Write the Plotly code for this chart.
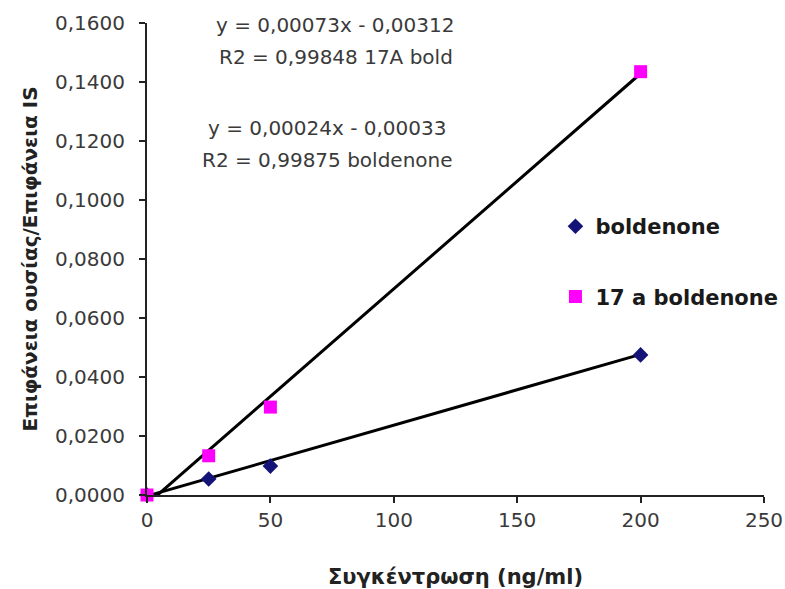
import plotly.graph_objects as go
import numpy as np

conc = [0, 25, 50, 200]
boldenone = [0.0, 0.0054, 0.0098, 0.0475]
alpha17 = [0.0, 0.0133, 0.0298, 0.1435]

fit_bold = (0.00024, -0.00033)
fit_17a = (0.00073, -0.00312)
trend_x = [0, 200]

x_ticks = [0, 50, 100, 150, 200, 250]
y_ticks = [0, 0.02, 0.04, 0.06, 0.08, 0.10, 0.12, 0.14, 0.16]

eq_lines = [
    ("y = 0,00073x - 0,00312", 0.306, 0.996),
    ("R2 = 0,99848 17A bold", 0.306, 0.928),
    ("y = 0,00024x - 0,00033", 0.292, 0.778),
    ("R2 = 0,99875 boldenone", 0.292, 0.710),
]

font_family = "'DejaVu Sans', sans-serif"

fig = go.Figure()

for (m, b) in (fit_17a, fit_bold):
    tx = np.array(trend_x, dtype=float)
    fig.add_trace(go.Scatter(
        x=tx, y=m * tx + b, mode="lines", cliponaxis=True,
        line=dict(color="black", width=3), showlegend=False, hoverinfo="skip"))

fig.add_trace(go.Scatter(
    x=conc, y=boldenone, mode="markers", name="boldenone",
    legendgroup="a", cliponaxis=False,
    marker=dict(symbol="diamond", color="#141478", size=12)))
fig.add_trace(go.Scatter(
    x=conc, y=alpha17, mode="markers", name="17 a boldenone",
    legendgroup="b", cliponaxis=False,
    marker=dict(symbol="square", color="#ff00ff", size=13)))

for text, xx, yy in eq_lines:
    fig.add_annotation(x=xx, y=yy, xref="paper", yref="paper", text=text,
                       showarrow=False, xanchor="center", yanchor="middle",
                       font=dict(size=20, color="#3a3a3a", family=font_family))

fig.update_layout(
    width=785, height=589,
    margin=dict(l=147, r=21, t=23, b=94, autoexpand=False),
    paper_bgcolor="white", plot_bgcolor="white",
    separators=", ",
    font=dict(family=font_family, color="#3a3a3a"),
    legend=dict(x=0.662, y=0.612, xanchor="left", yanchor="top",
                font=dict(size=21, color="#1a1a1a", family=font_family, weight="bold"),
                tracegroupgap=40, bgcolor="rgba(0,0,0,0)"),
    xaxis=dict(range=[0, 250], tickvals=x_ticks, showgrid=False, zeroline=False,
               automargin=False,
               showline=True, linecolor="#222222", linewidth=2,
               ticks="outside", ticklen=6, tickcolor="#222222", tickwidth=1.5,
               tickfont=dict(size=20, color="#3a3a3a"),
               title=dict(text="<b>Συγκέντρωση (ng/ml)</b>", standoff=38,
                          font=dict(size=21, color="#222222"))),
    yaxis=dict(range=[0, 0.16], tickvals=y_ticks, tickformat=".4f",
               showgrid=False, zeroline=False, automargin=False,
               showline=True, linecolor="#222222", linewidth=2,
               ticks="outside", ticklen=6, tickcolor="#222222", tickwidth=1.5,
               ticklabelstandoff=10,
               tickfont=dict(size=20, color="#3a3a3a"),
               title=dict(text="<b>Επιφάνεια ουσίας/Επιφάνεια IS</b>", standoff=12,
                          font=dict(size=20, color="#222222"))),
)

fig.write_html("out.html",
               config={"displayModeBar": False},
               post_script="document.body.style.margin='0';document.body.style.overflow='hidden';")
